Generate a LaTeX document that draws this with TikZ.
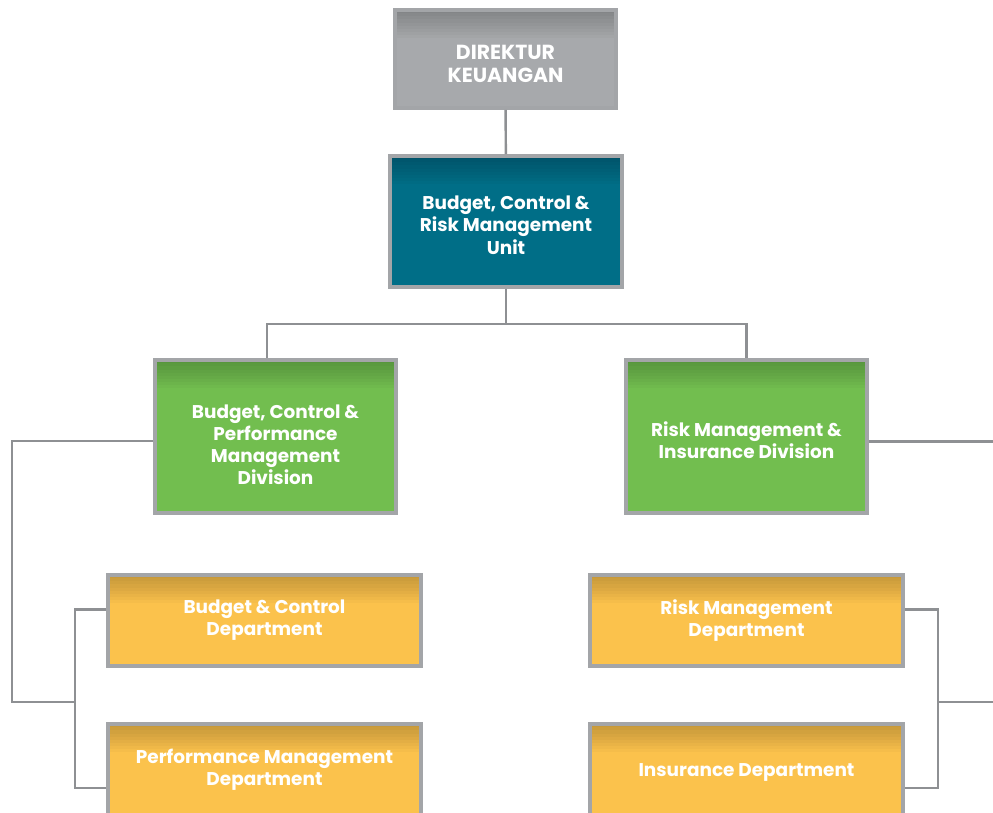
\documentclass[tikz,border=0pt]{standalone}
\usepackage{fontspec}
\setmainfont{Poppins}
\newcommand{\bajar}[1]{\rule{0pt}{#1}}

\begin{document}
\begin{tikzpicture}[x=0.02cm,y=-0.02cm,
        caja/.style={draw=marco,line width=2.2pt,fill=#1,text=white,align=center,
            font=\bfseries\fontsize{10.5}{12.6}\selectfont,inner sep=2pt,
            path picture={\foreach \k in {1,...,9}
                \fill[black,opacity=0.022] (path picture bounding box.north west) rectangle
                ([yshift=-\k*1.8pt]path picture bounding box.north east);}},
        enlace/.style={draw=linea,line width=1.4pt}]
        %colores
        \definecolor{gris}{HTML}{A7A9AC}
        \definecolor{azul}{HTML}{006E87}
        \definecolor{verde}{HTML}{72BE4F}
        \definecolor{amarillo}{HTML}{FBC24C}
        \definecolor{marco}{HTML}{A3A5A8}
        \definecolor{linea}{HTML}{8E9093}

        \useasboundingbox (0,0) rectangle (993,813);
        \clip (0,0) rectangle (993,813);

        % Cajas
        \node[caja=gris,minimum width=4.42cm,minimum height=1.96cm,font=\bfseries\fontsize{11.6}{12.8}\selectfont] (dir) at (505.5,59) {\bajar{14pt}DIREKTUR\\KEUANGAN};
        \node[caja=azul,minimum width=4.64cm,minimum height=2.62cm] (unit) at (506,221.5) {\bajar{12pt}Budget, Control \&\\Risk Management\\Unit};
        \node[caja=verde,minimum width=4.82cm,minimum height=3.06cm] (bcpm) at (275.5,436.5) {\bajar{17pt}Budget, Control \&\\Performance\\Management\\Division};
        \node[caja=verde,minimum width=4.82cm,minimum height=3.06cm] (rmid) at (746.5,436.5) {\bajar{13pt}Risk Management \&\\Insurance Division};
        \node[caja=amarillo,minimum width=6.26cm,minimum height=1.82cm] (bcd) at (264.5,620.5) {Budget \& Control\\Department};
        \node[caja=amarillo,minimum width=6.26cm,minimum height=1.82cm] (pmd) at (264.5,769.5) {Performance Management\\Department};
        \node[caja=amarillo,minimum width=6.26cm,minimum height=1.82cm] (rmd) at (746.5,620.5) {Risk Management\\Department};
        \node[caja=amarillo,minimum width=6.26cm,minimum height=1.82cm] (insd) at (746.5,769.5) {\bajar{11pt}Insurance Department};

        % Puntos de union
        \coordinate (bus) at (506,324);
        \coordinate (lrail) at (12,702);
        \coordinate (lfork) at (75,702);
        \coordinate (rfork) at (938,702);
        \coordinate (redge) at (1010,702);

        % Enlaces
        \draw[enlace] (dir) -- (unit);
        \draw[enlace] (unit) -- (bus);
        \draw[enlace] ([xshift=-0.17cm]bcpm.north) |- (bus) -| (rmid.north);
        \draw[enlace] ([yshift=-0.09cm]bcpm.west) -| (lrail) -- (lfork);
        \draw[enlace] ([yshift=0.22cm]bcd.west) -| (lfork) |- ([yshift=-0.37cm]pmd.west);
        \draw[enlace] ([yshift=0.22cm]rmd.east) -| (rfork) |- ([yshift=-0.37cm]insd.east);
        \draw[enlace] (rfork) -- (redge);
        \draw[enlace] ([yshift=-0.1cm]rmid.east) -- ([yshift=-0.1cm]rmid.east -| redge);
    \end{tikzpicture}
\end{document}
